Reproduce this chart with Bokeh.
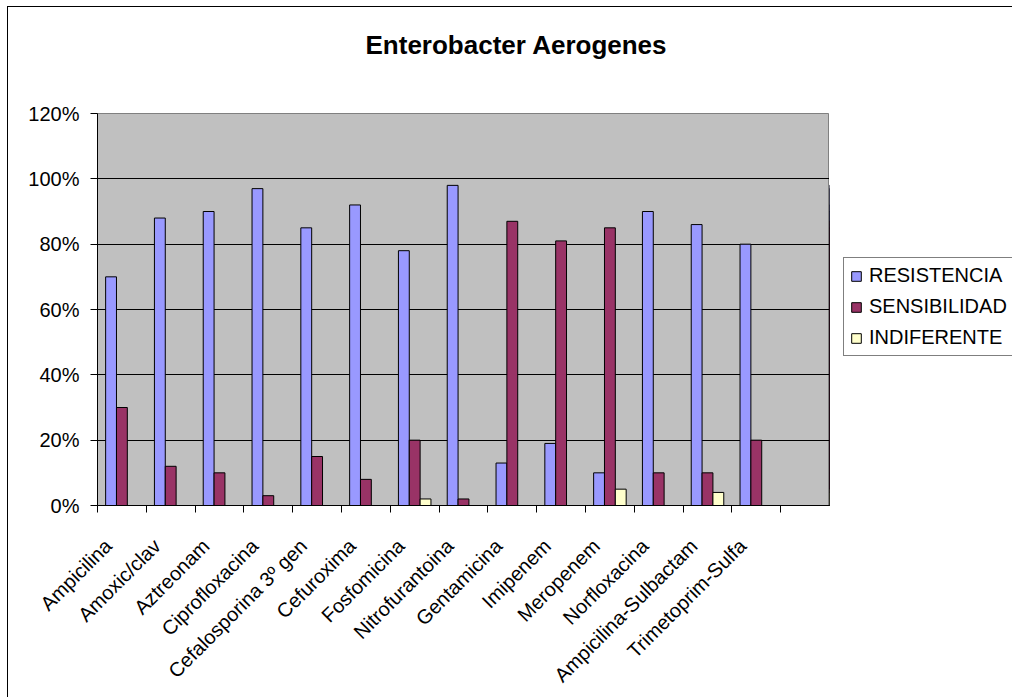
import math
from bokeh.plotting import figure
from bokeh.layouts import row
from bokeh.models import (Range1d, FixedTicker, NumeralTickFormatter, Legend,
                          LegendItem, Title)
from bokeh.embed import file_html
from bokeh.resources import INLINE

title_text = "Enterobacter Aerogenes"
categories = ["Ampicilina", "Amoxic/clav", "Aztreonam", "Ciprofloxacina",
              "Cefalosporina 3º gen", "Cefuroxima", "Fosfomicina",
              "Nitrofurantoina", "Gentamicina", "Imipenem", "Meropenem",
              "Norfloxacina", "Ampicilina-Sulbactam", "Trimetoprim-Sulfa"]
resistencia = [0.70, 0.88, 0.90, 0.97, 0.85, 0.92, 0.78, 0.98, 0.13, 0.19,
               0.10, 0.90, 0.86, 0.80]
sensibilidad = [0.30, 0.12, 0.10, 0.03, 0.15, 0.08, 0.20, 0.02, 0.87, 0.81,
                0.85, 0.10, 0.10, 0.20]
indiferente = [0.0, 0.0, 0.0, 0.0, 0.0, 0.0, 0.02, 0.0, 0.0, 0.0, 0.05, 0.0,
               0.04, 0.0]
series_names = ["RESISTENCIA", "SENSIBILIDAD", "INDIFERENTE"]
series_values = [resistencia, sensibilidad, indiferente]
series_colors = ["#9999FF", "#993366", "#FFFFCC"]
y_ticks = [0.0, 0.2, 0.4, 0.6, 0.8, 1.0, 1.2]
n_slots = len(categories) + 1  # chart keeps one empty category slot at the end

FONT = "Liberation Sans"
H = 697
MAIN_W = 829
LEG_W = 1012 - MAIN_W
bar_w = 1 / 4.5

# ---------------- main chart ----------------
p = figure(width=MAIN_W, height=H,
           x_range=Range1d(-0.5, n_slots - 0.5),
           y_range=Range1d(0, 1.2),
           output_backend="svg", toolbar_location=None,
           min_border_left=97, min_border_right=0,
           min_border_top=113, min_border_bottom=191,
           background_fill_color="#C0C0C0",
           border_fill_color="white", border_fill_alpha=0.0,
           outline_line_color="#808080")
# outer chart border (left and top edges visible in the window)
p.styles = {"background": "linear-gradient(#000,#000) 7px 6px / 1px 100% no-repeat, "
                          "linear-gradient(#000,#000) 7px 6px / 100% 1px no-repeat, #fff"}

# spacer between title and plot area (closest to the frame), then the title
p.add_layout(Title(text=" ", text_font=FONT, text_font_size="20px",
                   standoff=28, text_color="white"), "above")
p.add_layout(Title(text=title_text, align="left", offset=268,
                   vertical_align="top", standoff=0,
                   text_font=FONT, text_font_style="bold",
                   text_font_size="26px", text_color="black"), "above")

def series_x(k):
    return [i + (k - 1) * bar_w for i in range(len(categories))]

for k, (name, vals, color) in enumerate(zip(series_names, series_values, series_colors)):
    p.vbar(x=series_x(k), top=vals, bottom=0, width=bar_w, fill_color=color,
           line_color="black", line_width=1)

# grid
p.xgrid.visible = False
p.ygrid.ticker = FixedTicker(ticks=y_ticks)
p.ygrid.grid_line_color = "black"
p.ygrid.grid_line_alpha = 1.0

# x axis: tick marks between categories, labels slightly left of centres
label_shift = 0.28
label_pos = [round(i - label_shift, 4) for i in range(len(categories))]
xa = p.xaxis[0]
xa.ticker = FixedTicker(ticks=label_pos,
                        minor_ticks=[i - 0.5 for i in range(n_slots + 1)])
xa.major_label_overrides = {pos: c for pos, c in zip(label_pos, categories)}
xa.major_label_orientation = math.pi / 4
xa.major_tick_out = 0
xa.major_tick_in = 0
xa.minor_tick_out = 7
xa.minor_tick_in = 0
xa.minor_tick_line_color = "black"
xa.axis_line_color = "black"
xa.major_label_standoff = 30
xa.major_label_text_font = FONT
xa.major_label_text_font_size = "20px"
xa.major_label_text_color = "black"

# y axis
ya = p.yaxis[0]
ya.ticker = FixedTicker(ticks=y_ticks)
ya.formatter = NumeralTickFormatter(format="0%")
ya.major_tick_out = 7
ya.major_tick_in = 0
ya.minor_tick_line_color = None
ya.axis_line_color = "black"
ya.major_tick_line_color = "black"
ya.major_label_standoff = 11
ya.major_label_text_font = FONT
ya.major_label_text_font_size = "20px"
ya.major_label_text_color = "black"

# ---------------- legend panel ----------------
# the panel shows only the legend: its ranges lie beyond the data, so the
# mirrored series renderers (needed for the legend swatches) stay out of view
lp = figure(width=LEG_W, height=H, output_backend="svg", toolbar_location=None,
            x_range=Range1d(n_slots + 1, n_slots + 2), y_range=Range1d(0, 1.2),
            x_axis_type=None, y_axis_type=None,
            min_border=0, outline_line_color=None,
            background_fill_alpha=0.0, border_fill_alpha=0.0)
lp.styles = {"background": "linear-gradient(#000,#000) 0 6px / 100% 1px no-repeat, #fff"}
lp.xgrid.visible = False
lp.ygrid.visible = False
items = []
for k, (name, vals, color) in enumerate(zip(series_names, series_values, series_colors)):
    r = lp.vbar(x=series_x(k), top=vals, bottom=0, width=bar_w,
                fill_color=color, line_color="black", line_width=1)
    items.append(LegendItem(label=name, renderers=[r]))

legend = Legend(items=items, location=(14, 149), orientation="vertical",
                border_line_color="black", border_line_width=1,
                background_fill_color="white", background_fill_alpha=1.0,
                label_text_font=FONT, label_text_font_size="20px",
                label_text_color="black",
                glyph_width=12, glyph_height=12, label_standoff=7,
                spacing=8, padding=6, margin=0)
lp.add_layout(legend)

layout = row(p, lp, spacing=0)
open("out.html", "w").write(file_html(layout, INLINE))
